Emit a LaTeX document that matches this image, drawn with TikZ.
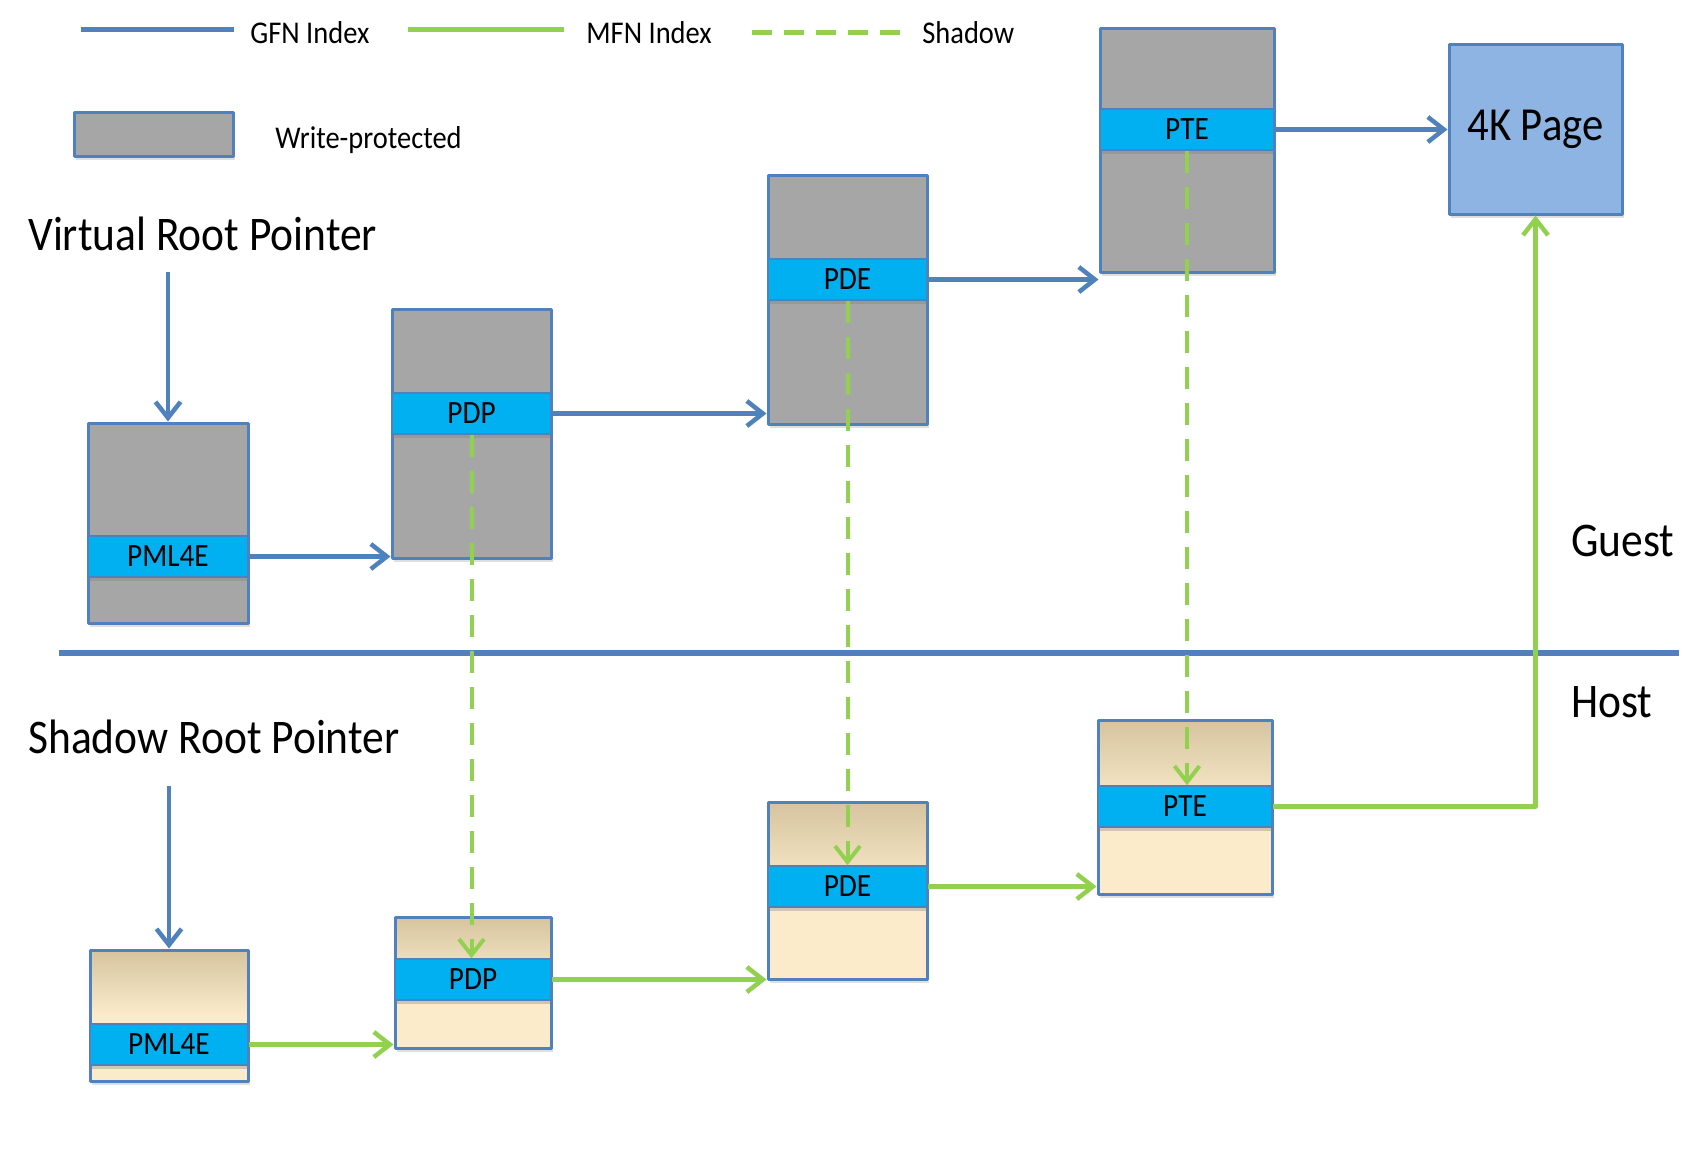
\documentclass[tikz,border=0pt]{standalone}
\usepackage{fontspec}
\setmainfont{Carlito}[FakeStretch=0.9]
\usetikzlibrary{arrows.meta,fit,shadows}
\definecolor{gfnblue}{HTML}{4F81BD}
\definecolor{mfngreen}{HTML}{92D050}
\definecolor{wpgray}{HTML}{A6A6A6}
\definecolor{entrycyan}{HTML}{00B0F0}
\definecolor{pageblue}{HTML}{8EB4E3}
\definecolor{hosttan}{HTML}{D5C49E}
\definecolor{hostcream}{HTML}{FCEBCB}

\begin{document}
\begin{tikzpicture}[
  x=0.2mm,
  y=-0.2mm,
  line join=round,
  tablebox/.style={draw=gfnblue,line width=0.6mm,inner sep=0pt,
    drop shadow={opacity=0.25,shadow xshift=0.4mm,shadow yshift=-0.7mm}},
  guestbox/.style={tablebox,fill=wpgray},
  hostbox/.style={tablebox,top color=hosttan,bottom color=hostcream,middle color=hostcream},
  entry/.style={draw=gfnblue,fill=entrycyan,line width=0.3mm,inner sep=0pt,
    drop shadow={opacity=0.35,shadow xshift=0mm,shadow yshift=-0.8mm}},
  entrytext/.style={inner sep=0pt,font=\fontsize{18.5}{22}\selectfont},
  pagebox/.style={tablebox,fill=pageblue},
  bigtext/.style={inner sep=0pt,anchor=west,font=\fontsize{27.5}{32}\selectfont},
  legendtext/.style={inner sep=0pt,anchor=west,font=\fontsize{18}{21}\selectfont},
  gfn/.style={draw=gfnblue,line width=0.9mm,-{Straight Barb[length=3.2mm,width=5mm]}},
  mfn/.style={draw=mfngreen,line width=0.9mm,-{Straight Barb[length=3.2mm,width=5mm]}},
  shadowlink/.style={draw=mfngreen,line width=0.8mm,dash pattern=on 4.4mm off 2.8mm,
    -{Straight Barb[length=3.2mm,width=5mm]}},
  divider/.style={draw=gfnblue,line width=1.1mm}
]
  \useasboundingbox (0,0) rectangle (1685,1151);
  % name, box style, left, top, right, bottom, entry top, entry label
  \newcommand{\pagetable}[8]{%
    \node[#2,fit={(#3,#4) (#5,#6)}] (#1) {};
    \node[entry,fit={(#3,#7) (#5,#7+41)}] (#1e) {};
    \node[entrytext] (#1t) at (#1e.center) {#8};
  }

  % Legend.
  \draw[draw=gfnblue,line width=1mm] (81,29) -- (234,29);
  \node[legendtext] (lgfn) at (250,33) {GFN Index};
  \draw[draw=mfngreen,line width=1mm] (408,29) -- (564,29);
  \node[legendtext] (lmfn) at (586,33) {MFN Index};
  \draw[draw=mfngreen,line width=1mm,dash pattern=on 4mm off 2.4mm] (752,32) -- (900,32);
  \node[legendtext] (lshadow) at (922,33) {Shadow};
  \path[guestbox] (74,112) rectangle (233,156);
  \node[legendtext] (lwp) at (275,140) {Write-protected};

  % Guest / host split.
  \draw[divider] (59,653) -- (1679,653);
  \node[bigtext] (guest) at (1571,541) {Guest};
  \node[bigtext] (host) at (1571,702) {Host};
  \node[bigtext] (vrp) at (28,234) {Virtual Root Pointer};
  \node[bigtext] (srp) at (28,737) {Shadow Root Pointer};
  \coordinate (vrproot) at (168,272);
  \coordinate (srproot) at (169,786);

  % Guest tables (write-protected).
  \pagetable{gpml}{guestbox}{88}{423}{248}{623}{536}{PML4E}
  \pagetable{gpdp}{guestbox}{392}{309}{551}{558}{393}{PDP}
  \pagetable{gpde}{guestbox}{768}{175}{927}{424}{259}{PDE}
  \pagetable{gpte}{guestbox}{1100}{28}{1274}{272}{109}{PTE}
  \node[pagebox,fit={(1449,44) (1622,214)}] (page) {};
  \node[inner sep=0pt,font=\fontsize{27}{32}\selectfont] (pagetext) at (page.center) {4K Page};

  % Shadow tables.
  \pagetable{hpml}{hostbox}{90}{950}{248}{1081}{1024}{PML4E}
  \pagetable{hpdp}{hostbox}{395}{917}{551}{1048}{959}{PDP}
  \pagetable{hpde}{hostbox}{768}{802}{927}{979}{866}{PDE}
  \pagetable{hpte}{hostbox}{1098}{720}{1272}{894}{786}{PTE}

  % GFN walk.
  \draw[gfn] (vrproot) -- (gpml.north);
  \draw[gfn] (gpmle.east) -- (gpmle.east -| gpdp.west);
  \draw[gfn] (gpdpe.east) -- (gpdpe.east -| gpde.west);
  \draw[gfn] (gpdee.east) -- (gpdee.east -| gpte.west);
  \draw[gfn] (gptee.east) -- (gptee.east -| page.west);

  % MFN walk.
  \draw[gfn] (srproot) -- (hpml.north);
  \draw[mfn] (hpmle.east) -- (hpmle.east -| hpdp.west);
  \draw[mfn] (hpdpe.east) -- (hpdpe.east -| hpde.west);
  \draw[mfn] (hpdee.east) -- (hpdee.east -| hpte.west);
  \draw[mfn] (hptee.east) -| (page.south);

  % Shadow links.
  \draw[shadowlink] (gpdpe.south) -- (gpdpe.south |- hpdpe.north);
  \draw[shadowlink] (gpdee.south) -- (gpdee.south |- hpdee.north);
  \draw[shadowlink] (gptee.south) -- (gptee.south |- hptee.north);
\end{tikzpicture}
\end{document}
